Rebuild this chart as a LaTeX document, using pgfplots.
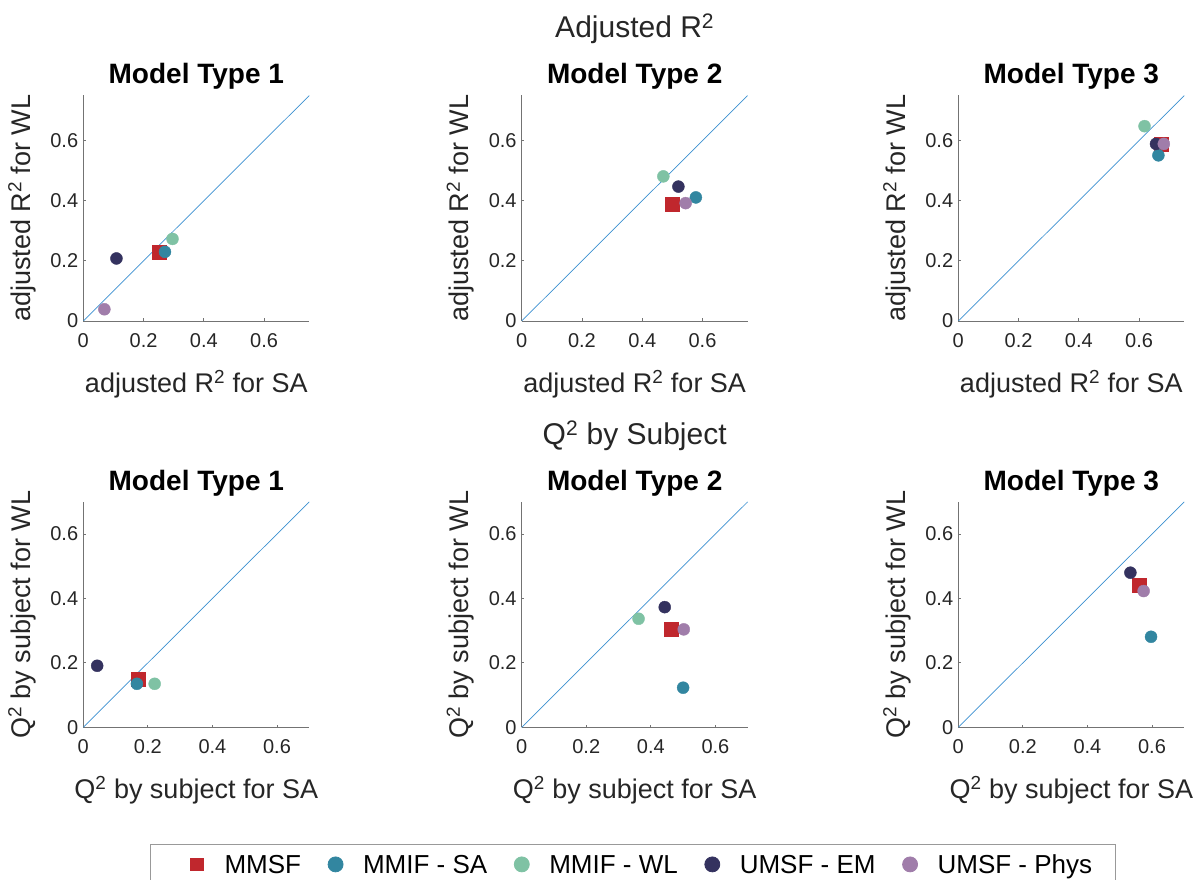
\documentclass[border=0pt]{standalone}
\usepackage{pgfplots}
\pgfplotsset{compat=1.18}
\usepackage{fontspec}
\setmainfont{Liberation Sans}
\definecolor{cMMSF}{HTML}{C0272D}
\definecolor{cSA}{HTML}{3286A0}
\definecolor{cWL}{HTML}{7FC2A4}
\definecolor{cEM}{HTML}{34325F}
\definecolor{cPh}{HTML}{A07DAA}
\definecolor{cDiag}{HTML}{3A8FD0}
\definecolor{txt}{HTML}{262626}
\pgfplotsset{
  panel/.style={
    width=226pt, height=225.5pt, scale only axis, anchor=south west,
    axis x line*=bottom, axis y line*=left,
    axis line style={black!55, line width=0.8pt},
    tick style={black!55, line width=0.8pt},
    major tick length=2.5pt, tick align=inside,
    xtick={0,0.2,0.4,0.6}, ytick={0,0.2,0.4,0.6},
    ticklabel style={font=\fontsize{20}{24}\selectfont, text=txt},
    xticklabel style={yshift=-9pt},
    yticklabel style={xshift=-1.6pt},
    /pgf/number format/assume math mode=true,
    label style={font=\fontsize{27}{32}\selectfont, text=txt},
    xlabel style={at={(axis description cs:0.5,-0.2173)}, anchor=north, inner sep=0pt},
    ylabel style={at={(axis description cs:-0.333,0.5)}, anchor=north, inner sep=0pt},
    title style={font=\fontsize{28}{34}\selectfont\bfseries, at={(axis description cs:0.5,1.0244)}, anchor=base, inner sep=0pt},
  },
  top/.style={panel, xmin=0, xmax=0.75, ymin=0, ymax=0.75,
    xlabel={adjusted R\textsuperscript{2} for SA}, ylabel={adjusted R\textsuperscript{2} for WL}},
  bot/.style={panel, xmin=0, xmax=0.7, ymin=0, ymax=0.7,
    xlabel={Q\textsuperscript{2} by subject for SA}, ylabel={Q\textsuperscript{2} by subject for WL}},
  sMMSF/.style={only marks, mark=square*, mark size=7pt, color=cMMSF, mark options={fill=cMMSF, draw=none}},
  sSA/.style={only marks, mark=*, mark size=6pt, color=cSA, mark options={fill=cSA, draw=none}},
  sWL/.style={only marks, mark=*, mark size=6pt, color=cWL, mark options={fill=cWL, draw=none}},
  sEM/.style={only marks, mark=*, mark size=6pt, color=cEM, mark options={fill=cEM, draw=none}},
  sPh/.style={only marks, mark=*, mark size=6pt, color=cPh, mark options={fill=cPh, draw=none}},
  diag/.style={cDiag, line width=0.7pt, forget plot},
  legcirc/.style={legend image code/.code={\path[draw=none,fill=none] (-8pt,-8pt) rectangle (8pt,8pt); \draw[##1, draw=none, mark size=7.5pt] plot coordinates {(0pt,0pt)};}},
  legsq/.style={legend image code/.code={\path[draw=none,fill=none] (-23.7pt,-8pt) rectangle (8pt,8pt); \draw[##1, draw=none, mark size=6.35pt] plot coordinates {(0pt,0pt)};}},
}
\begin{document}
\begin{tikzpicture}
\useasboundingbox (0pt,0pt) rectangle (1202pt,879pt);
% ---------------- top row: adjusted R^2 ----------------
\begin{axis}[top, at={(83.3pt,558pt)}, title={Model Type 1}]
\addplot[diag] coordinates {(0,0) (0.75,0.75)};
\addplot[sMMSF] coordinates {(0.251,0.228)};
\addplot[sSA] coordinates {(0.271,0.230)};
\addplot[sWL] coordinates {(0.296,0.273)};
\addplot[sEM] coordinates {(0.110,0.208)};
\addplot[sPh] coordinates {(0.070,0.039)};
\end{axis}
\begin{axis}[top, at={(521.7pt,558pt)}, title={Model Type 2},
  extra description/.code={\node[font=\fontsize{30}{36}\selectfont, text=txt, anchor=base, inner sep=0pt] at (0.5,1.2572) {Adjusted R\textsuperscript{2}};}]
\addplot[diag] coordinates {(0,0) (0.75,0.75)};
\addplot[sMMSF] coordinates {(0.498,0.389)};
\addplot[sSA] coordinates {(0.578,0.411)};
\addplot[sWL] coordinates {(0.470,0.481)};
\addplot[sEM] coordinates {(0.520,0.447)};
\addplot[sPh] coordinates {(0.544,0.392)};
\end{axis}
\begin{axis}[top, at={(958.3pt,558pt)}, title={Model Type 3}]
\addplot[diag] coordinates {(0,0) (0.75,0.75)};
\addplot[sMMSF] coordinates {(0.673,0.589)};
\addplot[sSA] coordinates {(0.664,0.551)};
\addplot[sWL] coordinates {(0.618,0.648)};
\addplot[sEM] coordinates {(0.656,0.589)};
\addplot[sPh] coordinates {(0.682,0.589)};
\end{axis}
% ---------------- bottom row: Q^2 by subject ----------------
\begin{axis}[bot, at={(83.3pt,151.7pt)}, title={Model Type 1}]
\addplot[diag] coordinates {(0,0) (0.7,0.7)};
\addplot[sMMSF] coordinates {(0.171,0.149)};
\addplot[sSA] coordinates {(0.166,0.135)};
\addplot[sWL] coordinates {(0.221,0.135)};
\addplot[sEM] coordinates {(0.043,0.191)};
\end{axis}
\begin{axis}[bot, at={(521.7pt,151.7pt)}, title={Model Type 2},
  extra description/.code={\node[font=\fontsize{30}{36}\selectfont, text=txt, anchor=base, inner sep=0pt] at (0.5,1.2559) {Q\textsuperscript{2} by Subject};},
  legend columns=5,
  legend style={at={(axis description cs:-1.645,-0.5175)}, anchor=north west,
    draw=black!40, line width=0.8pt, fill=white,
    font=\fontsize{26}{31}\selectfont,
    inner xsep=23pt, inner ysep=10pt,
    nodes={inner sep=0pt, text height=19pt, text depth=1pt, anchor=center},
    /tikz/every odd column/.append style={column sep=19.5pt},
    /tikz/every even column/.append style={column sep=26.5pt}},
  ]
\addplot[diag] coordinates {(0,0) (0.7,0.7)};
\addplot[sMMSF, legsq] coordinates {(0.463,0.304)};
\addlegendentry{MMSF}
\addplot[sSA, legcirc] coordinates {(0.500,0.123)};
\addlegendentry{MMIF - SA}
\addplot[sWL, legcirc] coordinates {(0.362,0.337)};
\addlegendentry{MMIF - WL}
\addplot[sEM, legcirc] coordinates {(0.443,0.373)};
\addlegendentry{UMSF - EM}
\addplot[sPh, legcirc] coordinates {(0.502,0.304)};
\addlegendentry{UMSF - Phys}
\end{axis}
\begin{axis}[bot, at={(958.3pt,151.7pt)}, title={Model Type 3}]
\addplot[diag] coordinates {(0,0) (0.7,0.7)};
\addplot[sMMSF] coordinates {(0.559,0.441)};
\addplot[sSA] coordinates {(0.597,0.281)};
\addplot[sEM] coordinates {(0.533,0.480)};
\addplot[sPh] coordinates {(0.574,0.423)};
\end{axis}
\end{tikzpicture}
\end{document}
